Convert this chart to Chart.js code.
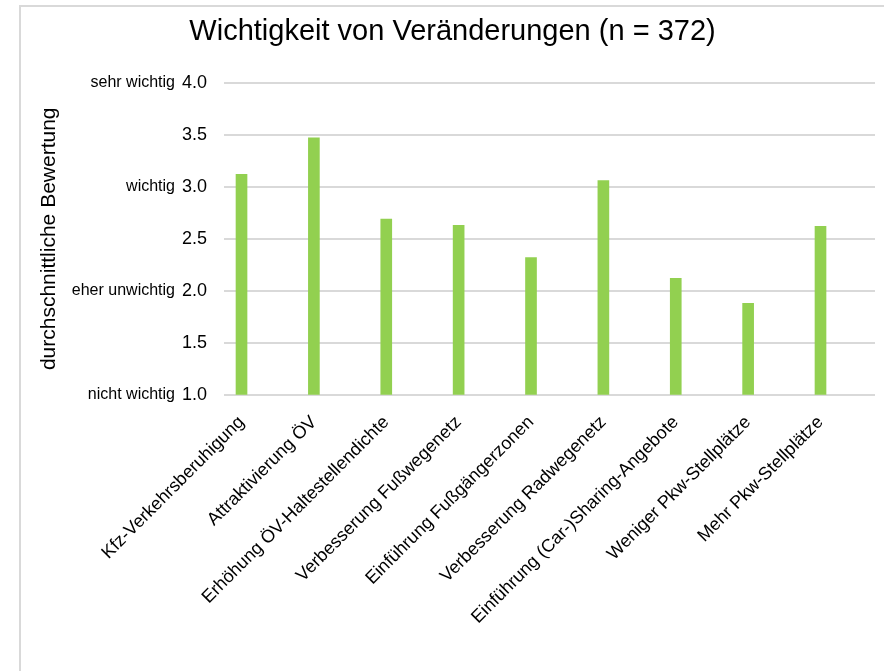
<!DOCTYPE html>
<html>
<head>
<meta charset="utf-8">
<script src="https://cdn.jsdelivr.net/npm/chart.js@4.4.0/dist/chart.umd.min.js"></script>
<style>
  html, body { margin: 0; padding: 0; background: #fff; overflow: hidden; }
  #frame { position: absolute; left: 19px; top: 5px; width: 900px; height: 700px;
           border-left: 2px solid #d9d9d9; border-top: 2px solid #d9d9d9; }
  #wrap { position: absolute; left: 21px; top: 7px; width: 863px; height: 664px; }
</style>
</head>
<body>
<div id="frame"></div>
<div id="wrap"><canvas id="chart"></canvas></div>
<script>
const categories = [
    'Kfz-Verkehrsberuhigung',
    'Attraktivierung ÖV',
    'Erhöhung ÖV-Haltestellendichte',
    'Verbesserung Fußwegenetz',
    'Einführung Fußgängerzonen',
    'Verbesserung Radwegenetz',
    'Einführung (Car-)Sharing-Angebote',
    'Weniger Pkw-Stellplätze',
    'Mehr Pkw-Stellplätze'
];
const values = [3.12, 3.47, 2.69, 2.63, 2.32, 3.06, 2.12, 1.88, 2.62];
const ratingValues = [1, 2, 3, 4];
const ratingWords = ['nicht wichtig', 'eher unwichtig', 'wichtig', 'sehr wichtig'];

const FONT = '"Liberation Sans", Arial, sans-serif';
const TICK_PAD = 17;

// draws the word next to the numeric y tick
const ratingWordsPlugin = {
    id: 'ratingWords',
    afterDraw(chart) {
        const y = chart.scales.y;
        const ctx = chart.ctx;
        ctx.save();
        ctx.fillStyle = '#000';
        ctx.textAlign = 'right';
        ctx.textBaseline = 'middle';
        ratingValues.forEach((v, i) => {
            const py = y.getPixelForValue(v);
            ctx.font = '18px ' + FONT;
            const numW = ctx.measureText(v.toFixed(1)).width;
            ctx.font = '16px ' + FONT;
            ctx.fillText(ratingWords[i], y.right - TICK_PAD - numW - 7, py);
        });
        ctx.restore();
    }
};

new Chart(document.getElementById('chart'), {
    type: 'bar',
    data: {
        datasets: [{
            data: values.map((v, i) => ({ x: i, y: v })),
            backgroundColor: '#92d050',
            barThickness: 11
        }]
    },
    options: {
        responsive: true,
        maintainAspectRatio: false,
        animation: false,
        layout: { padding: { top: 0, right: 0, bottom: 34, left: 0 } },
        plugins: {
            legend: { display: false },
            tooltip: { enabled: false },
            title: {
                display: true,
                text: 'Wichtigkeit von Veränderungen (n = 372)',
                color: '#000',
                font: { family: FONT, size: 29, weight: 'normal' },
                padding: { top: 8, bottom: 33 }
            }
        },
        scales: {
            x: {
                type: 'linear',
                offset: false,
                // the original plot leaves uneven room left and right of the bars
                min: -0.242,
                max: 8.753,
                afterFit(scale) { scale.paddingRight = Math.max(scale.paddingRight, 9); },
                grid: { display: false },
                border: { display: false },
                ticks: {
                    stepSize: 1,
                    includeBounds: false,
                    padding: 9,
                    color: '#000',
                    font: { family: FONT, size: 18 },
                    minRotation: 45,
                    maxRotation: 45,
                    autoSkip: false,
                    callback: v => categories[v] ?? ''
                }
            },
            y: {
                min: 1,
                max: 4,
                afterFit(scale) { scale.width = 203; },
                border: { display: false },
                grid: { color: '#d9d9d9', lineWidth: 2, drawTicks: false },
                ticks: {
                    stepSize: 0.5,
                    padding: TICK_PAD,
                    color: '#000',
                    font: { family: FONT, size: 18 },
                    callback: v => v.toFixed(1)
                },
                title: {
                    display: true,
                    text: 'durchschnittliche Bewertung',
                    color: '#000',
                    font: { family: FONT, size: 21 },
                    padding: { top: 16, bottom: 0 }
                }
            }
        }
    },
    plugins: [ratingWordsPlugin]
});
</script>
</body>
</html>
